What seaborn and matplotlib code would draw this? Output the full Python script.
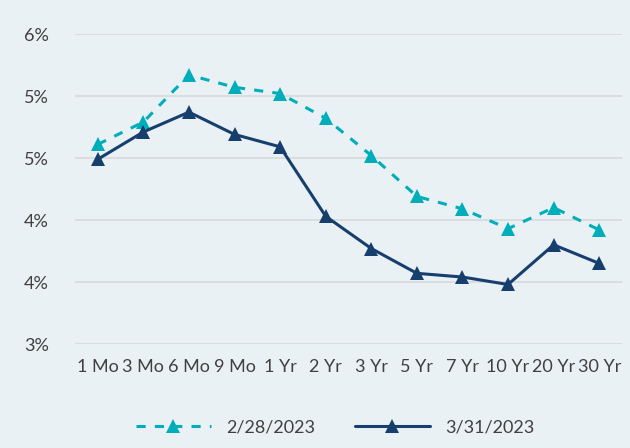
import math
import matplotlib
matplotlib.use("Agg")
import matplotlib.pyplot as plt
from matplotlib.ticker import FuncFormatter, MultipleLocator
import seaborn as sns
import pandas as pd

tenors = ["1 Mo", "3 Mo", "6 Mo", "9 Mo", "1 Yr", "2 Yr", "3 Yr", "5 Yr",
          "7 Yr", "10 Yr", "20 Yr", "30 Yr"]
feb_2023 = [4.61, 4.79, 5.17, 5.07, 5.02, 4.82, 4.52, 4.19, 4.09, 3.93, 4.10, 3.92]
mar_2023 = [4.49, 4.71, 4.87, 4.69, 4.59, 4.03, 3.77, 3.57, 3.54, 3.48, 3.80, 3.65]
series_names = ["2/28/2023", "3/31/2023"]

bg = "#E9F1F4"
cyan = "#00AEBB"
navy = "#173F6E"

rows = []
for name, vals in zip(series_names, [feb_2023, mar_2023]):
    for i, (t, v) in enumerate(zip(tenors, vals)):
        rows.append({"pos": i, "tenor": t, "yield": v, "date": name})
df = pd.DataFrame(rows)

sns.set_theme(style="white")
plt.rcParams["font.family"] = ["Lato", "DejaVu Sans"]

fig = plt.figure(figsize=(6.3, 4.48), dpi=100, facecolor=bg)
ax = fig.add_axes([75 / 630, 1 - 344 / 448, (622 - 75) / 630, (344 - 34) / 448])
ax.set_facecolor(bg)

sns.lineplot(data=df, x="pos", y="yield", hue="date", style="date",
             palette={series_names[0]: cyan, series_names[1]: navy},
             markers={series_names[0]: "^", series_names[1]: "^"},
             dashes={series_names[0]: (3, 3), series_names[1]: ""},
             linewidth=2.2, markersize=10.5, markeredgewidth=0,
             ax=ax, legend=True)

ax.set_xlim(-0.5, len(tenors) - 0.5)
ax.set_ylim(3.0, 5.5)
ax.yaxis.set_major_locator(MultipleLocator(0.5))
ax.yaxis.set_major_formatter(FuncFormatter(lambda v, p: f"{int(math.floor(v + 0.5 + 1e-9))}%"))
ax.set_xticks(range(len(tenors)))
ax.set_xticklabels(tenors)
ax.grid(axis="y", color="#D6D9DB", linewidth=1.2)
ax.set_axisbelow(True)
for s in ax.spines.values():
    s.set_visible(False)
ax.tick_params(axis="both", length=0, labelsize=13, colors="#404040")
ax.tick_params(axis="y", pad=19)
ax.tick_params(axis="x", pad=11)
ax.set_xlabel("")
ax.set_ylabel("")

handles, labels = ax.get_legend_handles_labels()
leg = ax.legend(handles, labels, loc="center", bbox_to_anchor=(0.475, -0.27),
                ncol=2, frameon=False, fontsize=13, handlelength=4.2,
                columnspacing=2.2, handletextpad=0.8)
for t in leg.get_texts():
    t.set_color("#404040")

fig.savefig("out.png", dpi=100, facecolor=bg)
